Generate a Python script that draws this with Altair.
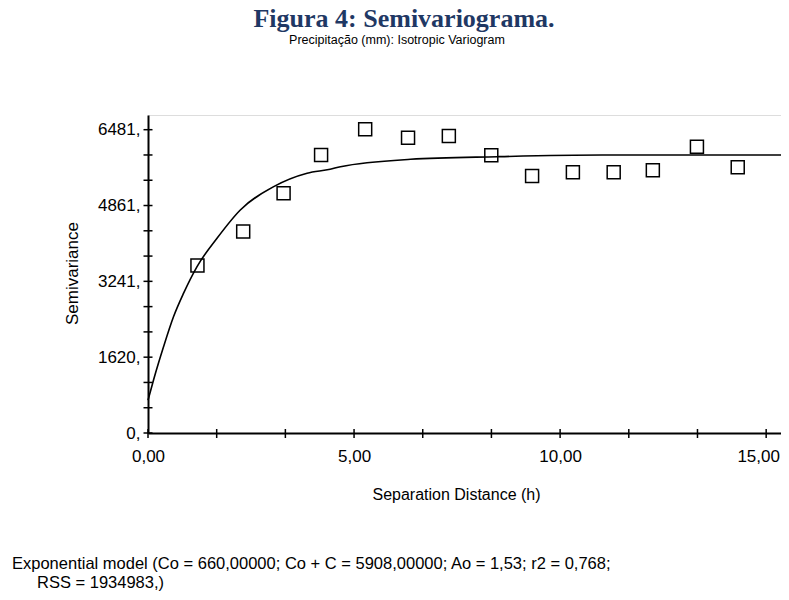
import altair as alt
import pandas as pd

# Experimental semivariogram points (separation distance h, semivariance)
lag_h = [1.20, 2.31, 3.29, 4.20, 5.27, 6.31, 7.30, 8.33, 9.32, 10.31, 11.30, 12.25, 13.32, 14.31]
semivar = [3577, 4303, 5123, 5940, 6489, 6309, 6346, 5934, 5492, 5571, 5571, 5614, 6117, 5678]

# Fitted exponential model curve
model_h = [0.0, 0.136, 0.379, 0.621, 0.864, 1.19, 1.675, 2.24, 3.05, 3.86, 4.42, 4.67, 6.37, 8.47, 11.02, 15.36]
model_g = [700, 1138, 1848, 2489, 2988, 3556, 4162, 4766, 5264, 5550, 5635, 5691, 5848, 5904, 5940, 5940]

# Axis ticks
y_major = [0, 1620.25, 3240.5, 4860.75, 6481]
y_ticks = [0, 540.08, 1080.17, 1620.25, 2160.33, 2700.42, 3240.5, 3780.58, 4320.67, 4860.75,
           5400.83, 5940.92, 6481]
x_major = [0, 5, 10, 15]
x_ticks = [0, 1.6667, 3.3333, 5, 6.6667, 8.3333, 10, 11.6667, 13.3333, 15]

title_text = "Figura 4: Semivariograma."
subtitle_text = "Precipitação (mm): Isotropic Variogram"
note_line1 = "Exponential model (Co = 660,00000; Co + C = 5908,00000; Ao = 1,53; r2 = 0,768;"
note_line2 = "RSS = 1934983,)"

FONT = "Liberation Sans"
FS = 17

pts = pd.DataFrame({"h": lag_h, "g": semivar})
curve = pd.DataFrame({"h": model_h, "g": model_g})
yt = pd.DataFrame({"g": y_ticks})
xt = pd.DataFrame({"h": x_ticks})

x_scale = alt.Scale(domain=[0, 15.36], nice=False, zero=False)
y_scale = alt.Scale(domain=[0, 6795], nice=False)

x_axis = alt.Axis(
    values=x_major, ticks=False, tickSize=0, grid=False,
    domainColor="black", domainWidth=2,
    labelExpr="replace(format(datum.value, '.2f'), '.', ',')",
    labelFont=FONT, labelFontSize=FS, labelColor="black", labelPadding=15,
    labelFlush=False, labelOverlap=False,
    labelOffset={"condition": {"test": "datum.value == 15", "value": -8}, "value": 0},
    title="Separation Distance (h)", titleFont=FONT, titleFontSize=16,
    titleFontWeight="normal", titleColor="black", titleX=308, titleY=66,
    titleAlign="center", titleBaseline="alphabetic",
)
y_axis = alt.Axis(
    values=y_major, ticks=False, tickSize=0, grid=False,
    domainColor="black", domainWidth=2,
    labelExpr="round(datum.value) + ','",
    labelFont=FONT, labelFontSize=FS, labelColor="black", labelPadding=8,
    labelOverlap=False, labelFlush=False,
    title="Semivariance", titleFont=FONT, titleFontSize=FS, titleFontWeight="normal",
    titleColor="black", titleX=-71, titleY=158, titleAngle=270,
    titleAlign="center", titleBaseline="alphabetic",
)

X = alt.X("h:Q", scale=x_scale, axis=x_axis)
Y = alt.Y("g:Q", scale=y_scale, axis=y_axis)

points = alt.Chart(pts).mark_point(
    shape="square", filled=False, size=169, color="black", strokeWidth=1.5, opacity=1
).encode(x=X, y=Y)

line = alt.Chart(curve).mark_line(
    color="black", strokeWidth=1.6, interpolate="monotone"
).encode(x=X, y=Y)

ytick_rules = alt.Chart(yt).mark_rule(color="black", strokeWidth=1.5).encode(
    y=Y, x=alt.value(-4.5), x2=alt.value(4.5)
)
xtick_rules = alt.Chart(xt).mark_rule(color="black", strokeWidth=1.5).encode(
    x=X, y=alt.value(314), y2=alt.value(323)
)

title = alt.Chart(pd.DataFrame({"t": [title_text]})).mark_text(
    font="Liberation Serif", fontWeight="bold", fontSize=26, color="#1F3864",
    align="center", baseline="alphabetic"
).encode(x=alt.value(256), y=alt.value(-88), text="t:N")

subtitle = alt.Chart(pd.DataFrame({"t": [subtitle_text]})).mark_text(
    font=FONT, fontSize=12.5, color="black", align="center", baseline="alphabetic"
).encode(x=alt.value(249), y=alt.value(-71), text="t:N")

note1 = alt.Chart(pd.DataFrame({"t": [note_line1]})).mark_text(
    font=FONT, fontSize=16.5, color="black", align="left", baseline="alphabetic"
).encode(x=alt.value(-136), y=alt.value(454), text="t:N")

note2 = alt.Chart(pd.DataFrame({"t": [note_line2]})).mark_text(
    font=FONT, fontSize=16.5, color="black", align="left", baseline="alphabetic"
).encode(x=alt.value(-111), y=alt.value(473), text="t:N")

chart = alt.layer(
    line, points, ytick_rules, xtick_rules, title, subtitle, note1, note2
).properties(
    width=633, height=318,
    autosize=alt.AutoSizeParams(type="none"),
    padding={"left": 140, "top": 107, "right": 0, "bottom": 159},
).configure_view(stroke=None).configure(background="white")

chart.save("out.html", embed_options={"renderer": "svg", "actions": False})
